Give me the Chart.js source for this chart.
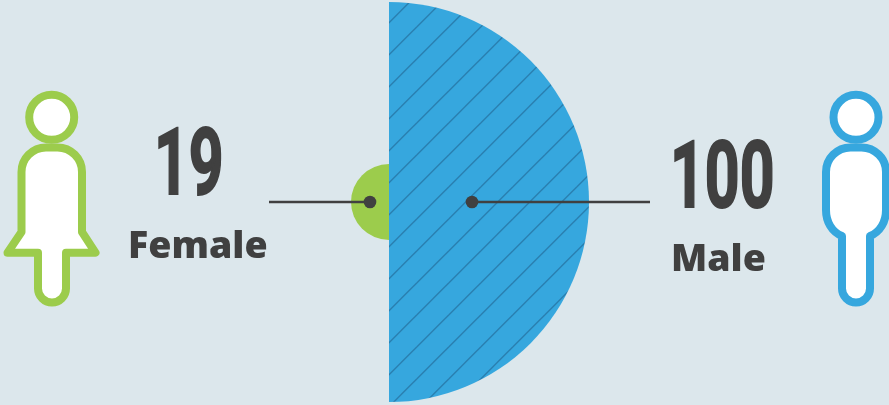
<!DOCTYPE html>
<html lang="en">
<head>
  <meta charset="UTF-8" />
  <title>Female / Male</title>
  <script src="https://cdn.jsdelivr.net/npm/chart.js"></script>
  <style>
    html, body { margin: 0; padding: 0; background: #dce7ec; overflow: hidden; }
    #wrap { position: relative; width: 889px; height: 405px; }
    canvas { position: absolute; left: 0; top: 0; }
    svg { position: absolute; left: 0; top: 0; }
    .num, .name { position: absolute; color: #404040; line-height: 1; white-space: nowrap; transform-origin: left top; }
    .num { font: 700 92px Roboto, sans-serif; transform: scaleX(0.66); -webkit-text-stroke: 2px #404040; }
    .name { font: 800 37.5px "Open Sans", sans-serif; }
  </style>
</head>
<body>
  <div id="wrap">
    <canvas id="chart" width="889" height="405"></canvas>
    <svg width="889" height="405" viewBox="0 0 889 405">
      <g fill="#fff" stroke="#9ccc4c" stroke-width="8" stroke-linejoin="round">
        <circle cx="51.7" cy="117.3" r="22.5" />
        <path d="M21.5 232 V172 A24.5 24.5 0 0 1 46 147.5 H57.5 A24.5 24.5 0 0 1 82 172 V232 L95.5 252.7 H66 V288.5 A14 14 0 0 1 38 288.5 V252.7 H7.5 Z" />
      </g>
      <g fill="#fff" stroke="#36a7de" stroke-width="8" stroke-linejoin="round">
        <circle cx="856" cy="117.3" r="22.5" />
        <path d="M842 236 C832 232 826 222 826 210 V172 A24.5 24.5 0 0 1 850.5 147.5 H861.5 A24.5 24.5 0 0 1 886 172 V210 C886 222 880 232 870 236 V288.5 A14 14 0 0 1 842 288.5 Z" />
      </g>
    </svg>
    <span class="num" id="numMale" style="left:670px;top:122px"></span>
    <span class="name" id="nameMale" style="left:671px;top:231px"></span>
    <span class="num" id="numFemale" style="left:154px;top:109px"></span>
    <span class="name" id="nameFemale" style="left:128px;top:218px"></span>
  </div>

  <script>
    const categories = ['Male', 'Female'];
    const counts = [100, 19];

    // hatching for the male slice, 45 degree lines every 32px
    function hatch(color, lineColor) {
      const tile = document.createElement('canvas');
      tile.width = 32;
      tile.height = 32;
      const c = tile.getContext('2d');
      c.fillStyle = color;
      c.fillRect(0, 0, 32, 32);
      c.strokeStyle = lineColor;
      c.lineWidth = 1.4;
      [-4.3, 27.7, 59.7].forEach(s => {
        c.beginPath();
        c.moveTo(s + 2, -2);
        c.lineTo(-2, s + 2);
        c.stroke();
      });
      return c.createPattern(tile, 'repeat');
    }

    // leader lines with a dot inside each slice
    const leaders = {
      id: 'leaders',
      afterDatasetsDraw(chart) {
        const { ctx, scales } = chart;
        const r = scales.r;
        const y = r.yCenter;
        const ends = [
          { from: r.xCenter + r.getDistanceFromCenterForValue(41.5), to: 650 },
          { from: r.xCenter - r.getDistanceFromCenterForValue(9.5), to: 269 },
        ];
        ctx.save();
        ctx.strokeStyle = '#404040';
        ctx.fillStyle = '#404040';
        ctx.lineWidth = 2.4;
        ends.forEach(e => {
          ctx.beginPath();
          ctx.moveTo(e.from, y);
          ctx.lineTo(e.to, y);
          ctx.stroke();
          ctx.beginPath();
          ctx.arc(e.from, y, 6.3, 0, Math.PI * 2);
          ctx.fill();
        });
        ctx.restore();
      },
    };

    new Chart(document.getElementById('chart').getContext('2d'), {
      type: 'polarArea',
      data: {
        labels: categories,
        datasets: [{
          data: counts,
          backgroundColor: [hatch('#36a7de', '#2a7fb0'), '#9ccc4c'],
          borderWidth: 0,
        }],
      },
      options: {
        responsive: false,
        animation: false,
        layout: { padding: { left: 0, right: 111, top: 2, bottom: 3 } },
        plugins: { legend: { display: false }, tooltip: { enabled: false } },
        scales: { r: { display: false, min: 0, max: 100 } },
      },
      plugins: [leaders],
    });

    document.getElementById('numMale').textContent = counts[0];
    document.getElementById('numFemale').textContent = counts[1];
    document.getElementById('nameMale').textContent = categories[0];
    document.getElementById('nameFemale').textContent = categories[1];
  </script>
</body>
</html>
